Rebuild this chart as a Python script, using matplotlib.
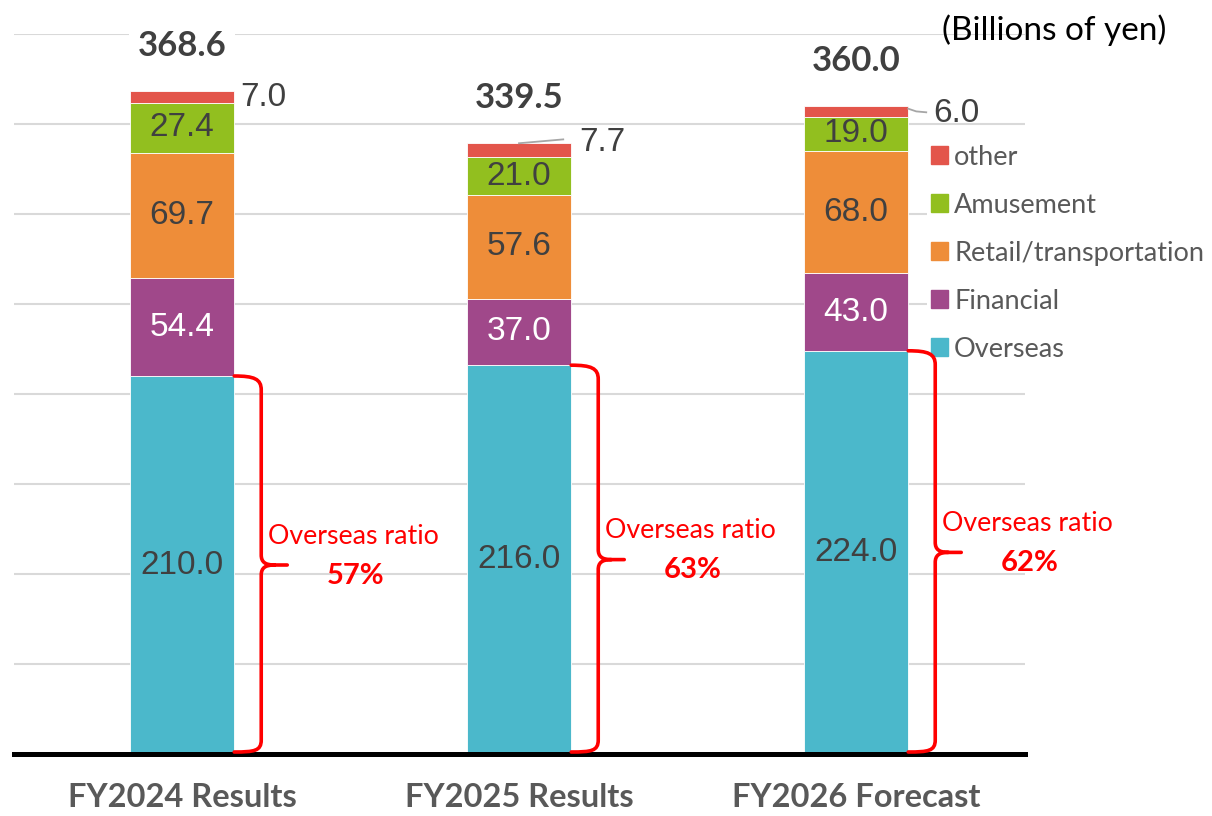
import matplotlib
matplotlib.use("Agg")
import matplotlib.pyplot as plt
from matplotlib.path import Path
from matplotlib.patches import PathPatch, Patch
import numpy as np

categories = ["FY2024 Results", "FY2025 Results", "FY2026 Forecast"]
series_names = ["Overseas", "Financial", "Retail/transportation", "Amusement", "other"]
overseas = [210.0, 216.0, 224.0]
financial = [54.4, 37.0, 43.0]
retail = [69.7, 57.6, 68.0]
amusement = [27.4, 21.0, 19.0]
other = [7.0, 7.7, 6.0]
totals = [368.6, 339.5, 360.0]
ratio_labels = ["57%", "63%", "62%"]

colors = ["#4BB8CB", "#A0488A", "#EE8D39", "#92BF1F", "#E3554B"]
label_colors = ["#404040", "white", "#404040", "#404040", "#404040"]

W, H = 1212, 816
fig = plt.figure(figsize=(W / 100, H / 100), dpi=100)
ax_l, ax_r, ax_b, ax_t = 13.5, 1024.5, 754, 34
ax = fig.add_axes([ax_l / W, 1 - ax_b / H, (ax_r - ax_l) / W, (ax_b - ax_t) / H])
ax.set_xlim(-0.5, 2.5)
ax.set_ylim(0, 400)
sx = (ax_r - ax_l) / 3.0     # px per x unit
sy = (ax_b - ax_t) / 400.0   # px per y unit

for s in ax.spines.values():
    s.set_visible(False)
ax.set_yticks(np.arange(50, 401, 50))
ax.set_yticklabels([])
ax.tick_params(axis="both", length=0)
ax.grid(axis="y", color="#D9D9D9", linewidth=1.5, zorder=0)
ax.set_axisbelow(True)
ax.axhline(0, color="black", linewidth=3.6, zorder=5, clip_on=False)

x = np.arange(len(categories))
bw = 0.31
data = [overseas, financial, retail, amusement, other]
bottom = np.zeros(len(categories))
val_font = "Liberation Sans"
cal_font = "Lato"

for i, vals in enumerate(data):
    vals = np.array(vals)
    ax.bar(x, vals, bw, bottom=bottom, color=colors[i], label=series_names[i],
           zorder=3, edgecolor="white", linewidth=0.6)
    for j, v in enumerate(vals):
        if i < 4:
            ax.text(x[j], bottom[j] + v / 2, f"{v:.1f}", ha="center", va="center",
                    fontsize=24, color=label_colors[i], family=val_font, zorder=6)
    bottom = bottom + vals

stack_top = bottom.copy()

# "other" labels placed beside the bar
other_dx_px = [6, 8, 25]
other_dy = [0.0, 4.5, -1.0]
leader = [False, True, True]
for j in range(len(categories)):
    seg_c = stack_top[j] - other[j] / 2
    xr = x[j] + bw / 2
    ty = seg_c + other_dy[j]
    ax.text(xr + other_dx_px[j] / sx, ty, f"{other[j]:.1f}", ha="left", va="center",
            fontsize=24, color="#404040", family=val_font, zorder=6)
    if leader[j]:
        if j == 1:
            ax.plot([x[j], xr - 8 / sx], [stack_top[j], ty + 1.5], color="#A6A6A6",
                    lw=1.3, zorder=6)
        else:
            ax.plot([xr, xr + 8 / sx, xr + 18 / sx], [seg_c + 1.5, seg_c, seg_c - 0.5],
                    color="#A6A6A6", lw=1.3, zorder=6)

# totals
for j in range(len(categories)):
    bb = dict(boxstyle="square,pad=0.25", fc="white", ec="none") if j == 0 else None
    ax.text(x[j], stack_top[j] + 25, f"{totals[j]:.1f}", ha="center", va="center",
            fontsize=25, fontweight="bold", color="#404040", family=cal_font,
            bbox=bb, zorder=7)

# braces
def brace(ax, xr, top):
    m = top / 2
    P = lambda px, py: (xr + px / sx, py)
    k = 1 / sy
    verts = [P(0, top), P(20, top), P(27, top - 3 * k), P(27, top - 14 * k),
             P(27, m + 10 * k),
             P(27, m + 3 * k), P(31, m), P(40, m),
             P(53, m),
             P(40, m),
             P(31, m), P(27, m - 3 * k), P(27, m - 10 * k),
             P(27, 14 * k),
             P(27, 3 * k), P(20, 2 * k), P(0, 2 * k)]
    codes = [Path.MOVETO, Path.CURVE4, Path.CURVE4, Path.CURVE4,
             Path.LINETO,
             Path.CURVE4, Path.CURVE4, Path.CURVE4,
             Path.LINETO,
             Path.MOVETO,
             Path.CURVE4, Path.CURVE4, Path.CURVE4,
             Path.LINETO,
             Path.CURVE4, Path.CURVE4, Path.CURVE4]
    ax.add_patch(PathPatch(Path(verts, codes), fill=False, ec="#FF0000", lw=2.6,
                           zorder=7, capstyle="round", joinstyle="round"))

for j in range(len(categories)):
    xr = x[j] + bw / 2
    brace(ax, xr, overseas[j])
    m = overseas[j] / 2
    ax.text(xr + 34 / sx, m + 16, "Overseas ratio", ha="left", va="center",
            fontsize=19.3, color="#FF0000", family=cal_font, zorder=7)
    ax.text(xr + 121 / sx, m - 6, ratio_labels[j], ha="center", va="center",
            fontsize=21, fontweight="bold", color="#FF0000", family=cal_font, zorder=7)

ax.set_xticks(x)
ax.set_xticklabels(categories, fontsize=23.5, fontweight="bold", color="#595959",
                   family=cal_font)
ax.tick_params(axis="x", pad=21)

fig.text(1054 / W, 1 - 30 / H, "(Billions of yen)", ha="center", va="center",
         fontsize=24, color="#000000", family=cal_font)

handles = [Patch(color=colors[i]) for i in range(4, -1, -1)]
labels = [series_names[i] for i in range(4, -1, -1)]
leg = ax.legend(handles, labels, loc="upper left",
                bbox_to_anchor=(913 / W, 1 - 127 / H), bbox_transform=fig.transFigure,
                frameon=True, facecolor="white", edgecolor="none", framealpha=1,
                fancybox=False, prop={"family": cal_font, "size": 19.5},
                handlelength=0.65, handleheight=0.65, handletextpad=0.22,
                labelspacing=0.85, borderpad=0.15, labelcolor="#595959")
leg.set_zorder(6.5)

fig.savefig("out.png", dpi=100)
